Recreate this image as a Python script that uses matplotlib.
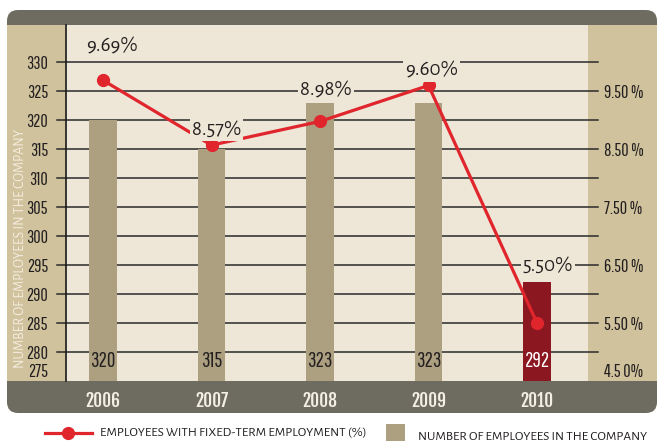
import matplotlib
matplotlib.use("Agg")
import matplotlib.pyplot as plt
from matplotlib import font_manager as fm
from matplotlib.patches import FancyBboxPatch, Rectangle
from matplotlib.lines import Line2D
from matplotlib.transforms import IdentityTransform, blended_transform_factory

# ---- data -------------------------------------------------------------
years = ["2006", "2007", "2008", "2009", "2010"]
employees = [320, 315, 323, 323, 292]
fixed_term_pct = [9.69, 8.57, 8.98, 9.60, 5.50]
left_ticks = [280, 285, 290, 295, 300, 305, 310, 315, 320, 325, 330]
right_ticks = [5.5, 6.5, 7.5, 8.5, 9.5]
right_labels = ["5.50 %", "6.50 %", "7.50 %", "8.50 %", "9.50 %"]

# ---- style ------------------------------------------------------------
W, H = 658, 441
DARK = "#6E6C60"
TAN = "#CFC29D"
CREAM = "#EEE6D6"
BAR = "#ADA081"
RED_BAR = "#8B1820"
LINE = "#E0252D"
INK = "#231F20"

_installed = {f.name for f in fm.fontManager.ttflist}


def first_installed(*names):
    for n in names:
        if n in _installed:
            return n
    return "DejaVu Sans"


NARROW = first_installed("Pathway Gothic One", "Roboto Condensed", "Archivo Narrow")
NARROW_BOLD = first_installed("Fjalla One", "Roboto Condensed", "Oswald")
HUMAN = first_installed("Alegreya Sans", "Ysabeau", "Open Sans")


def narrow(size):
    return fm.FontProperties(family=NARROW, stretch="condensed", size=size)


fig = plt.figure(figsize=(W / 100, H / 100), dpi=100, facecolor="white")


def px_rect(x0, y0, x1, y1, color, rounding=0, z=-10):
    """Add a rectangle given in top-left pixel coordinates."""
    if rounding:
        p = FancyBboxPatch((x0, H - y1), x1 - x0, y1 - y0,
                           boxstyle=f"round,pad=0,rounding_size={rounding}",
                           transform=IdentityTransform(), fc=color, ec="none", zorder=z)
    else:
        p = Rectangle((x0, H - y1), x1 - x0, y1 - y0,
                      transform=IdentityTransform(), fc=color, ec="none", zorder=z)
    fig.add_artist(p)


# panel frame
px_rect(7, 10, 657, 413, DARK, rounding=11, z=-12)
px_rect(7, 25, 66, 381, TAN, z=-11)
px_rect(588, 25, 657, 381, TAN, z=-11)

# ---- axes -------------------------------------------------------------
ax = fig.add_axes([66 / W, 1 - 381 / H, (588 - 66) / W, (381 - 25) / H])
ax.set_facecolor(CREAM)
x = list(range(len(years)))
ax.set_xlim(-0.341, 4.470)
ax.set_ylim(275, 336.44)

for s in ("top", "right", "bottom"):
    ax.spines[s].set_visible(False)
ax.spines["left"].set_color("#1a1a1a")
ax.spines["left"].set_linewidth(1.2)

# horizontal rules reaching past both edges of the plot
blend = blended_transform_factory(ax.transAxes, ax.transData)
for v in left_ticks:
    ax.plot([-0.018, 1.019], [v, v], transform=blend, color="#2a2a2a",
            lw=1.1, clip_on=False, zorder=1)

colors = [BAR] * (len(years) - 1) + [RED_BAR]
ax.bar(x, [e - 275 for e in employees], bottom=275, width=0.25,
       color=colors, zorder=2)

for i, v in enumerate(employees):
    ax.annotate(str(v), xy=(i, 275), xytext=(0, 7), textcoords="offset points",
                ha="center", va="bottom", fontproperties=narrow(15),
                color="white" if i == len(years) - 1 else INK, zorder=3)

ax.set_yticks(left_ticks)
ax.set_yticklabels([str(t) for t in left_ticks], fontproperties=narrow(13))
ax.tick_params(axis="y", length=0, pad=13, labelcolor=INK)
ax.annotate("275", xy=(0, 275), xycoords=blend, xytext=(-13, 6.5),
            textcoords="offset points", ha="right", va="center",
            fontproperties=narrow(13), color=INK, annotation_clip=False)

ax.set_xticks(x)
ax.set_xticklabels(years, family=NARROW_BOLD, fontweight="bold", fontsize=12.5,
                   color="#F4EFE4")
ax.tick_params(axis="x", length=0, pad=7)

# ---- percentage line on the right scale -------------------------------
ax2 = ax.twinx()
ax2.set_ylim((275 - 230) / 10, (336.44 - 230) / 10)
for s in ax2.spines.values():
    s.set_visible(False)
ax2.set_yticks(right_ticks)
ax2.set_yticklabels(right_labels, fontproperties=narrow(13))
ax2.tick_params(axis="y", length=0, pad=11.5, labelcolor=INK)
blend2 = blended_transform_factory(ax2.transAxes, ax2.transData)
ax2.annotate("4.5 0%", xy=(1, 4.5), xycoords=blend2, xytext=(11.5, 6.5),
             textcoords="offset points", ha="left", va="center",
             fontproperties=narrow(13), color=INK, annotation_clip=False)

ax2.plot(x, fixed_term_pct, color=LINE, lw=2.3, marker="o", ms=8.5,
         clip_on=False, zorder=4)

label_offsets = [(6.5, 24.5), (3.6, 11.5), (4.3, 22.3), (2.2, 11.2), (7.9, 41.8)]
for i, (v, off) in enumerate(zip(fixed_term_pct, label_offsets)):
    ax2.annotate(f"{v:.2f}%", xy=(i, v), xytext=off, textcoords="offset points",
                 ha="center", va="center", fontsize=15, family=HUMAN, color=INK,
                 bbox=dict(fc=CREAM, ec="none", pad=1.5), zorder=5)

# ---- side caption ----------------------------------------------------
fig.text(20 / W, 1 - 249 / H, "NUMBER OF EMPLOYEES IN THE COMPANY", rotation=90,
         ha="center", va="center", fontsize=10, family=HUMAN, color="#F5EEE0")

# ---- legend ------------------------------------------------------------
fig.add_artist(Line2D([45, 92], [H - 433, H - 433], transform=IdentityTransform(),
                      color=LINE, lw=2.3))
fig.add_artist(Line2D([68], [H - 433], transform=IdentityTransform(), color=LINE,
                      marker="o", ms=8.5, lw=0))
fig.text(100 / W, 1 - 433 / H, "EMPLOYEES WITH FIXED-TERM EMPLOYMENT (%)",
         ha="left", va="center", fontsize=9.6, family=HUMAN, color=INK)
px_rect(386, 424, 405, 445, BAR, z=1)
fig.text(418 / W, 1 - 436 / H, "NUMBER OF EMPLOYEES IN THE COMPANY",
         ha="left", va="center", fontsize=9.6, family=HUMAN, color=INK)

fig.savefig("out.png", dpi=100, facecolor="white")
